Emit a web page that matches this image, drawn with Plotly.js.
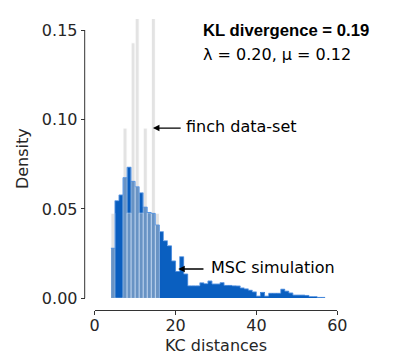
<!DOCTYPE html>
<html>
<head>
<meta charset="utf-8">
<script src="https://cdn.plot.ly/plotly-3.0.1.min.js"></script>
<style>html,body{margin:0;padding:0;background:#fff;}#chart{width:397px;height:356px;}</style>
</head>
<body>
<div id="chart"></div>
<script>
// KC-distance bins (left edges, width 1)
const simBins = [4,5,6,7,8,9,10,11,12,13,14,15,16,17,18,19,20,21,22,23,24,25,26,27,28,29,30,
  31,32,33,34,35,36,37,38,39,40,41,42,43,44,45,46,47,48,49,50,51,52,53,54,55,56];
// MSC simulation density
const simDensity = [0.028,0.0546,0.0578,0.0675,0.0733,0.0654,0.0624,0.059,0.051,0.048,0.0475,0.041,
  0.0373,0.0322,0.0294,0.0209,0.0150,0.0233,0.0136,0.0070,0.0070,0.0070,0.0087,0.0082,0.0097,0.0080,0.0080,
  0.0088,0.0072,0.0072,0.0070,0.0069,0.0058,0.0053,0.0045,0.0036,0.0012,0.0033,0.0012,0.0028,0.0028,0.0028,
  0.0051,0.0040,0.0030,0.0018,0.0018,0.0018,0.0016,0.0010,0.0010,0.0005,0.0005];
// finch data-set
const finchBins = [4,5,6,7,8,9,10,11,12,13,14,15];
const finchDensity = [0.0476,0,0,0.0952,0.0476,0.1429,0.1905,0.0476,0.0952,0.0476,0.2381,0.0476];

const xTicks = [0,20,40,60];
const yTicks = [0,0.05,0.10,0.15];

const FONT = 'DejaVu Sans, sans-serif';
const BOLDFONT = 'Liberation Sans, Arial, sans-serif';
const INK = '#262626';

// step outline of the simulation histogram (built from the same arrays)
const stepX = simBins.concat([simBins[simBins.length-1] + 1]);
const stepY = simDensity.concat([simDensity[simDensity.length-1]]);

const traces = [
  {type:'bar', x:simBins, y:simDensity, width:1, offset:0, name:'MSC simulation',
   marker:{color:'#0a5fc0', line:{width:0}}, hoverinfo:'skip'},
  {type:'scatter', mode:'lines', x:stepX, y:stepY, line:{shape:'hv', color:'rgba(90,150,225,0.9)', width:1},
   hoverinfo:'skip', cliponaxis:true},
  {type:'bar', x:finchBins, y:finchDensity, width:1, offset:0, name:'finch data-set',
   marker:{color:'rgb(200,200,200)', opacity:0.5, line:{color:'#ffffff', width:1}}, hoverinfo:'skip'}
];

const layout = {
  width:397, height:356,
  margin:{l:80, r:55, t:10, b:40},
  paper_bgcolor:'#fff', plot_bgcolor:'rgba(0,0,0,0)',
  showlegend:false, barmode:'overlay', bargap:0,
  font:{family:FONT, size:16, color:INK},
  xaxis:{range:[0,60], domain:[0.0561,0.9821], anchor:'free', position:0.0196,
    tickvals:xTicks, ticks:'outside', ticklen:4, tickwidth:1, tickcolor:'#333',
    ticklabelstandoff:-3,
    showline:true, linecolor:'#333', linewidth:1, showgrid:false, zeroline:false,
    tickfont:{family:FONT, size:16, color:INK},
    title:{text:'KC distances', font:{family:FONT, size:16, color:INK}, standoff:5}},
  yaxis:{range:[0,0.1562], domain:[0.0578,0.9706], anchor:'free', position:0.0179,
    tickvals:yTicks, tickformat:'.2f', ticks:'outside', ticklen:4, tickwidth:1, tickcolor:'#333',
    showline:false, showgrid:false, zeroline:false,
    tickfont:{family:FONT, size:16, color:INK},
    title:{text:'Density', font:{family:FONT, size:16, color:INK}, standoff:8}},
  shapes:[
    {type:'line', xref:'paper', yref:'y', x0:0.0179, x1:0.0179, y0:0, y1:0.15,
     line:{color:'#333', width:1}}
  ],
  annotations:[
    {xref:'x', yref:'y', x:26.28, y:0.150, text:'<b>KL divergence = 0.19</b>', showarrow:false,
     xanchor:'left', yanchor:'middle', font:{family:BOLDFONT, size:16.7, color:'#000'}},
    {xref:'x', yref:'y', x:26.28, y:0.1366, text:'λ = 0.20, μ = 0.12', showarrow:false,
     xanchor:'left', yanchor:'middle', font:{family:FONT, size:16, color:'#000'}},
    {xref:'x', yref:'y', x:14.41, y:0.0952, ax:21.63, ay:0.0952, axref:'x', ayref:'y', text:'',
     showarrow:true, arrowhead:2, arrowsize:1, arrowwidth:1.3, arrowcolor:'#000', standoff:0},
    {xref:'x', yref:'y', x:22.1, y:0.096, text:'finch data-set', showarrow:false,
     xanchor:'left', yanchor:'middle', font:{family:FONT, size:16, color:'#000'}},
    {xref:'x', yref:'y', x:20.67, y:0.0164, ax:27.27, ay:0.0164, axref:'x', ayref:'y', text:'',
     showarrow:true, arrowhead:2, arrowsize:1, arrowwidth:1.3, arrowcolor:'#000', standoff:0},
    {xref:'x', yref:'y', x:28.34, y:0.0170, text:'MSC simulation', showarrow:false,
     xanchor:'left', yanchor:'middle', font:{family:FONT, size:16, color:'#000'}}
  ]
};

Plotly.newPlot('chart', traces, layout, {staticPlot:true, displayModeBar:false});
</script>
</body>
</html>
